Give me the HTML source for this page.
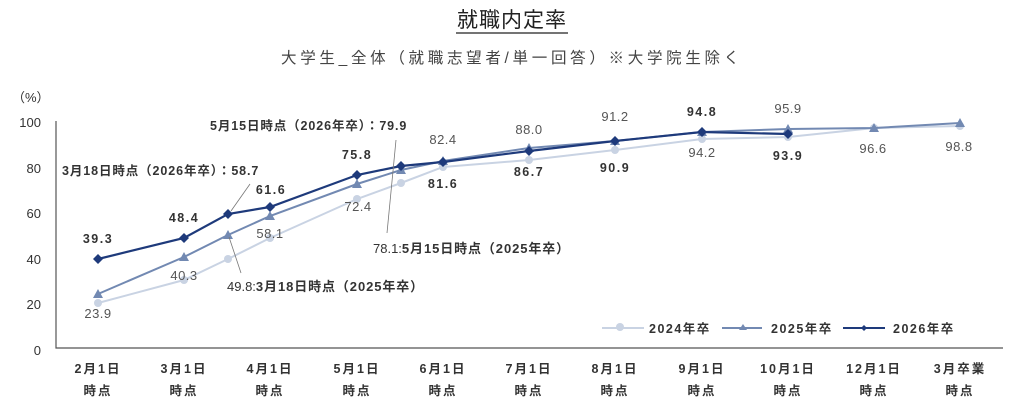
<!DOCTYPE html>
<html><head><meta charset="utf-8"><style>
body{margin:0;background:#fff;}
svg{display:block;font-family:"Liberation Sans","Noto Sans CJK JP",sans-serif;}
.b{font-weight:bold;fill:#333;font-size:12.5px;letter-spacing:1.5px}
.l{fill:#555;font-size:13px;letter-spacing:0.5px}
.t{font-size:13px;fill:#333}
</style></head><body>
<svg width="1024" height="414" viewBox="0 0 1024 414">
<text x="512" y="27" text-anchor="middle" font-size="21" fill="#222" letter-spacing="1">就職内定率</text>
<line x1="456" y1="33" x2="568" y2="33" stroke="#222" stroke-width="1.3"/>
<text x="512" y="63" text-anchor="middle" font-size="15.5" fill="#444" letter-spacing="3.7">大学生_全体（就職志望者/単一回答）※大学院生除く</text>
<text x="12" y="102" class="t" font-size="14">（%）</text>
<g class="t" text-anchor="end" font-size="14">
<text x="41" y="127">100</text><text x="41" y="173">80</text><text x="41" y="218">60</text>
<text x="41" y="264">40</text><text x="41" y="309">20</text><text x="41" y="355">0</text></g>
<polyline points="56,121 56,348 1003,348" fill="none" stroke="#555" stroke-width="1.2"/>
<g class="b" text-anchor="middle" font-size="13" style="letter-spacing:2px">
<text x="98" y="373">2月1日</text><text x="98" y="395">時点</text>
<text x="184" y="373">3月1日</text><text x="184" y="395">時点</text>
<text x="270" y="373">4月1日</text><text x="270" y="395">時点</text>
<text x="357" y="373">5月1日</text><text x="357" y="395">時点</text>
<text x="443" y="373">6月1日</text><text x="443" y="395">時点</text>
<text x="529" y="373">7月1日</text><text x="529" y="395">時点</text>
<text x="615" y="373">8月1日</text><text x="615" y="395">時点</text>
<text x="702" y="373">9月1日</text><text x="702" y="395">時点</text>
<text x="788" y="373">10月1日</text><text x="788" y="395">時点</text>
<text x="874" y="373">12月1日</text><text x="874" y="395">時点</text>
<text x="960" y="373">3月卒業</text><text x="960" y="395">時点</text></g>
<polyline fill="none" stroke="#c9d3e3" stroke-width="2" points="98,303 184,280 228,259 270,238 357,199 401,183 443,167 529,160 615,150 702,139 788,137 874,128 960,126"/>
<g fill="#c9d3e3"><circle cx="98" cy="303" r="4"/><circle cx="184" cy="280" r="4"/><circle cx="228" cy="259" r="4"/><circle cx="270" cy="238" r="4"/><circle cx="357" cy="199" r="4"/><circle cx="401" cy="183" r="4"/><circle cx="443" cy="167" r="4"/><circle cx="529" cy="160" r="4"/><circle cx="615" cy="150" r="4"/><circle cx="702" cy="139" r="4"/><circle cx="788" cy="137" r="4"/><circle cx="874" cy="128" r="4"/><circle cx="960" cy="126" r="4"/></g>
<polyline fill="none" stroke="#7289b2" stroke-width="2" points="98,294 184,257 228,235 270,216 357,184 401,170 443,161 529,148 615,141 702,132 788,129 874,128 960,123"/>
<g fill="#7289b2">
<path d="M98,289l5,9h-10z"/><path d="M184,252l5,9h-10z"/><path d="M228,230l5,9h-10z"/><path d="M270,211l5,9h-10z"/><path d="M357,179l5,9h-10z"/><path d="M401,165l5,9h-10z"/><path d="M443,156l5,9h-10z"/><path d="M529,143l5,9h-10z"/><path d="M615,136l5,9h-10z"/><path d="M702,127l5,9h-10z"/><path d="M788,124l5,9h-10z"/><path d="M874,123l5,9h-10z"/><path d="M960,118l5,9h-10z"/></g>
<polyline fill="none" stroke="#1e3a7b" stroke-width="2.2" points="98,259 184,238 228,214 270,207 357,175 401,166 443,162 529,151 615,141 702,132 788,134"/>
<g fill="#1e3a7b">
<path d="M98,254l5,5l-5,5l-5,-5z"/><path d="M184,233l5,5l-5,5l-5,-5z"/><path d="M228,209l5,5l-5,5l-5,-5z"/><path d="M270,202l5,5l-5,5l-5,-5z"/><path d="M357,170l5,5l-5,5l-5,-5z"/><path d="M401,161l5,5l-5,5l-5,-5z"/><path d="M443,157l5,5l-5,5l-5,-5z"/><path d="M529,146l5,5l-5,5l-5,-5z"/><path d="M615,136l5,5l-5,5l-5,-5z"/><path d="M702,127l5,5l-5,5l-5,-5z"/><path d="M788,129l5,5l-5,5l-5,-5z"/></g>
<g stroke="#777" stroke-width="0.8"><line x1="250" y1="184" x2="231" y2="211"/><line x1="396" y1="140" x2="387" y2="233"/><line x1="229" y1="237" x2="241" y2="273"/></g>
<g text-anchor="middle">
<text class="b" x="98" y="243">39.3</text><text class="b" x="184" y="222">48.4</text><text class="b" x="271" y="194">61.6</text><text class="b" x="357" y="159">75.8</text><text class="b" x="443" y="188">81.6</text><text class="b" x="529" y="176">86.7</text><text class="b" x="615" y="172">90.9</text><text class="b" x="702" y="116">94.8</text><text class="b" x="788" y="160">93.9</text>
<text class="l" x="98" y="318">23.9</text><text class="l" x="184" y="280">40.3</text><text class="l" x="270" y="238">58.1</text><text class="l" x="358" y="211">72.4</text><text class="l" x="443" y="144">82.4</text><text class="l" x="529" y="134">88.0</text><text class="l" x="615" y="121">91.2</text><text class="l" x="702" y="157">94.2</text><text class="l" x="788" y="113">95.9</text><text class="l" x="873" y="153">96.6</text><text class="l" x="959" y="151">98.8</text></g>
<text class="b" x="210" y="130" style="letter-spacing:0.9px">5月15日時点（2026年卒）：79.9</text>
<text class="b" x="62" y="175" style="letter-spacing:0.9px">3月18日時点（2026年卒）：58.7</text>
<text class="t" x="373" y="253">78.1:<tspan font-weight="bold" letter-spacing="0.9">5月15日時点（2025年卒）</tspan></text>
<text class="t" x="227" y="291">49.8:<tspan font-weight="bold" letter-spacing="0.9">3月18日時点（2025年卒）</tspan></text>
<line x1="602" y1="328" x2="644" y2="328" stroke="#c9d3e3" stroke-width="2"/><circle cx="620" cy="327" r="4" fill="#c9d3e3"/>
<text class="b" x="649" y="333">2024年卒</text>
<line x1="722" y1="328" x2="762" y2="328" stroke="#7289b2" stroke-width="2"/><path d="M743,324l4,6h-8z" fill="#7289b2"/>
<text class="b" x="771" y="333">2025年卒</text>
<line x1="843" y1="328" x2="885" y2="328" stroke="#1e3a7b" stroke-width="2"/><path d="M864,325l3,3l-3,3l-3,-3z" fill="#1e3a7b"/>
<text class="b" x="893" y="333">2026年卒</text>
</svg>
</body></html>
